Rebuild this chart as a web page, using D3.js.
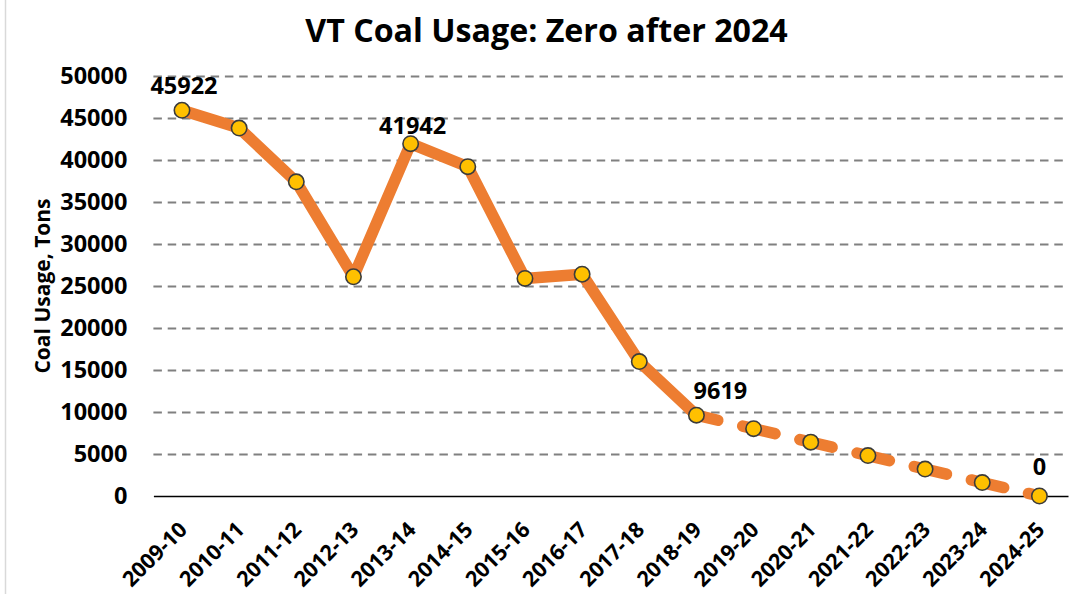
<!DOCTYPE html>
<html>
<head>
<meta charset="utf-8">
<script src="https://cdn.jsdelivr.net/npm/d3@7"></script>
<style>
  html, body {margin: 0; padding: 0; background: #fff;}
  svg {display: block; font-family: "Open Sans", "Noto Sans", sans-serif;}
</style>
</head>
<body>
<svg id="chart" width="1073" height="594"></svg>
<script>
`use strict`;

const SEASONS = [`2009-10`, `2010-11`, `2011-12`, `2012-13`, `2013-14`, `2014-15`, `2015-16`, `2016-17`,
  `2017-18`, `2018-19`, `2019-20`, `2020-21`, `2021-22`, `2022-23`, `2023-24`, `2024-25`];

const TONS = [45922, 43800, 37400, 26100, 41942, 39200, 25900, 26400,
  16000, 9619, 8016, 6413, 4810, 3206, 1603, 0];

// last season with actual numbers, the rest is the plan (drawn dashed)
const LAST_ACTUAL = `2018-19`;

const LABELLED = [`2009-10`, `2013-14`, `2018-19`, `2024-25`];

const Y_TICKS = [0, 5000, 10000, 15000, 20000, 25000, 30000, 35000, 40000, 45000, 50000];

(function () {

  const W = 1073, H = 594;

  const M = {top: 76, right: 5, bottom: 98, left: 153.4};

  const svg = d3.select(`#chart`);

  let rows = SEASONS.map((s, i) => ({season: s, tons: TONS[i]}));

  let x = d3.scalePoint()
    .domain(SEASONS)
    .range([M.left, W - M.right])
    .padding(0.5);

  let y = d3.scaleLinear()
    .domain([0, 50000])
    .range([H - M.bottom, M.top]);

  // chart border, only the left edge shows in the frame
  svg.append(`rect`)
    .attr(`x`, 5.5).attr(`y`, -2)
    .attr(`width`, W + 10).attr(`height`, H + 10)
    .attr(`fill`, `none`)
    .attr(`stroke`, `#d9d9d9`)
    .style(`stroke-width`, 1.5);

  svg.append(`text`)
    .attr(`x`, 546.5).attr(`y`, 41.5)
    .attr(`text-anchor`, `middle`)
    .style(`font-size`, `32.2px`)
    .style(`font-weight`, `bold`)
    .attr(`fill`, `#000`)
    .text(`VT Coal Usage: Zero after 2024`);

  // gridlines
  let grid = svg.append(`g`)
    .attr(`transform`, `translate(${M.left},0)`)
    .call(d3.axisLeft(y).tickValues(Y_TICKS.filter(v => v > 0)).tickSize(-(W - M.left - M.right)).tickFormat(``));

  grid.select(`.domain`).remove();

  grid.selectAll(`line`)
    .attr(`stroke`, `#808080`)
    .style(`stroke-width`, 1.8)
    .style(`stroke-dasharray`, `8.5 5.8`);

  // y axis labels
  let yAxis = svg.append(`g`)
    .attr(`transform`, `translate(${M.left},0)`)
    .call(d3.axisLeft(y).tickValues(Y_TICKS).tickSize(0).tickPadding(26).tickFormat(d3.format(`d`)));

  yAxis.select(`.domain`).remove();

  yAxis.selectAll(`text`)
    .attr(`fill`, `#000`)
    .style(`font-family`, `"Open Sans", sans-serif`)
    .style(`font-size`, `23.5px`)
    .style(`font-weight`, `bold`);

  // x axis
  let xAxis = svg.append(`g`)
    .attr(`transform`, `translate(0,${y(0)})`)
    .call(d3.axisBottom(x).tickSize(0).tickPadding(0));

  xAxis.select(`.domain`)
    .attr(`stroke`, `#000`)
    .style(`stroke-width`, 1.6);

  xAxis.selectAll(`text`)
    .attr(`fill`, `#000`)
    .attr(`text-anchor`, `end`)
    .attr(`dy`, 0)
    .attr(`y`, 0)
    .attr(`transform`, `translate(6,35) rotate(-45)`)
    .style(`font-family`, `"Open Sans", sans-serif`)
    .style(`font-size`, `21.5px`)
    .style(`font-weight`, `bold`);

  svg.append(`text`)
    .attr(`transform`, `translate(50,286) rotate(-90)`)
    .attr(`text-anchor`, `middle`)
    .style(`font-size`, `21px`)
    .style(`font-weight`, `bold`)
    .attr(`fill`, `#000`)
    .text(`Coal Usage, Tons`);

  let line = d3.line()
    .x(d => x(d.season))
    .y(d => y(d.tons));

  let cut = SEASONS.indexOf(LAST_ACTUAL);

  let plot = svg.append(`g`);

  plot.append(`path`)
    .datum(rows.slice(0, cut + 1))
    .attr(`d`, line)
    .attr(`fill`, `none`)
    .attr(`stroke`, `#ed7d31`)
    .attr(`stroke-linejoin`, `round`)
    .style(`stroke-width`, 11.5);

  // plan part: every segment gets its own dash pattern, like Excel does
  let segs = d3.pairs(rows.slice(cut));

  plot.selectAll(`path.plan`).data(segs)
    .enter()
    .append(`path`)
    .attr(`class`, `plan`)
    .attr(`d`, line)
    .attr(`fill`, `none`)
    .attr(`stroke`, `#ed7d31`)
    .attr(`stroke-linecap`, `round`)
    .style(`stroke-width`, 11.5)
    .style(`stroke-dasharray`, `22 25.5`);

  plot.selectAll(`circle`).data(rows)
    .enter()
    .append(`circle`)
    .attr(`cx`, d => x(d.season))
    .attr(`cy`, d => y(d.tons))
    .attr(`r`, 7.7)
    .attr(`fill`, `#ffc000`)
    .attr(`stroke`, `#3b3b3b`)
    .style(`stroke-width`, 1.6);

  // label nudges
  const NUDGE = {
    [`2009-10`]: [2, -16],
    [`2013-14`]: [2, -9.5],
    [`2018-19`]: [24, -16],
    [`2024-25`]: [0, -21]
  };

  plot.selectAll(`text.val`).data(rows.filter(d => LABELLED.includes(d.season)))
    .enter()
    .append(`text`)
    .attr(`class`, `val`)
    .attr(`x`, d => x(d.season) + NUDGE[d.season][0])
    .attr(`y`, d => y(d.tons) + NUDGE[d.season][1])
    .attr(`text-anchor`, `middle`)
    .attr(`fill`, `#000`)
    .style(`font-size`, `23.5px`)
    .style(`font-weight`, `bold`)
    .text(d => d.tons);

})();
</script>
</body>
</html>
